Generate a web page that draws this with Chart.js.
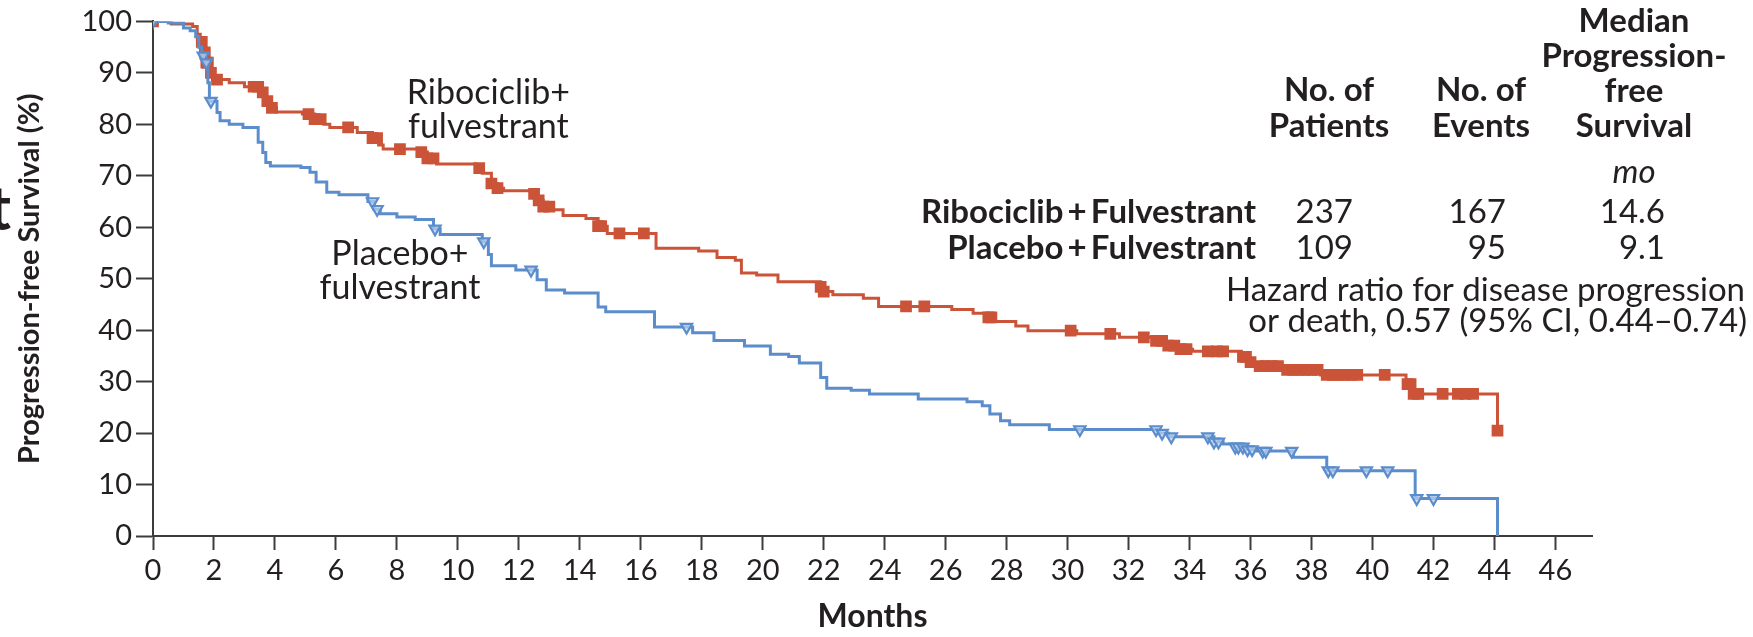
<!DOCTYPE html>
<html>
<head>
  <meta charset="utf-8">
  <title>Progression-free Survival</title>
  <script src="https://cdn.jsdelivr.net/npm/chart.js@4.4.0/dist/chart.umd.min.js"></script>
  <style>
    html, body { margin: 0; padding: 0; background: #fff; }
    #wrap { width: 1753px; height: 637px; }
  </style>
</head>
<body>
<div id="wrap"><canvas id="km" width="1753" height="637"></canvas></div>
<script>
  // Kaplan-Meier steps (months, % progression-free)
  const redTimes = [0, 0.6, 1.3, 1.45, 1.55, 1.65, 1.75, 1.85, 1.95, 2.5, 3.0, 3.55, 3.7, 3.85, 4.05, 4.9, 5.3, 5.6, 5.8, 6.7, 7.2, 7.4, 7.55, 8.7, 9.0, 9.3, 10.6, 10.8, 11.1, 11.3, 11.5, 12.4, 12.6, 12.8, 13.1, 13.45, 14.2, 14.6, 14.9, 16.5, 17.9, 18.5, 19.1, 19.3, 19.8, 20.5, 21.9, 22.0, 22.3, 23.3, 23.8, 26.2, 26.9, 27.4, 27.6, 28.3, 28.7, 30.3, 31.7, 32.8, 33.2, 33.6, 34.1, 35.7, 35.9, 36.1, 37.0, 38.3, 41.1, 41.3, 44.1];
  const redSurv = [100, 99.5, 99, 97.5, 96, 94, 92, 90, 88.7, 88.1, 87.3, 86.2, 84.5, 83.2, 82.4, 82.0, 81.0, 80.0, 79.4, 78.4, 77.3, 76.0, 75.2, 74.6, 73.4, 72.3, 71.5, 70.5, 68.5, 67.6, 67.1, 66.5, 65.2, 64.0, 63.4, 62.3, 61.7, 60.2, 58.8, 55.9, 55.4, 54.1, 53.6, 51.1, 50.7, 49.4, 48.4, 47.5, 46.9, 46.2, 44.6, 44.0, 43.3, 42.5, 41.7, 40.8, 39.9, 39.3, 38.6, 37.9, 37.0, 36.3, 35.9, 34.8, 33.8, 33.0, 32.3, 31.3, 29.5, 27.6, 20.5];

  const blueTimes = [0, 0.5, 1.0, 1.22, 1.4, 1.5, 1.6, 1.7, 1.8, 1.85, 2.1, 2.2, 2.5, 2.95, 3.45, 3.6, 3.7, 3.85, 4.85, 5.15, 5.35, 5.7, 6.1, 7.05, 7.25, 7.45, 8.0, 8.6, 9.2, 9.42, 10.8, 11.0, 11.1, 11.9, 12.6, 12.9, 13.5, 14.6, 14.85, 16.45, 17.7, 18.4, 19.4, 20.25, 20.85, 21.2, 21.9, 22.1, 22.9, 23.5, 25.1, 26.7, 27.2, 27.45, 27.8, 28.1, 29.4, 33.0, 33.3, 34.8, 35.1, 35.5, 35.9, 36.2, 37.4, 38.5, 41.4, 44.1];
  const blueSurv = [100, 99.7, 98.7, 98.2, 97, 95, 93.3, 92, 88.1, 84.5, 82.3, 80.7, 80.0, 79.4, 76.5, 74.5, 72.6, 71.9, 71.6, 70.7, 68.8, 66.8, 66.3, 65.0, 63.5, 62.6, 62.0, 61.5, 59.7, 58.6, 57.2, 54.7, 52.5, 51.7, 49.8, 47.8, 47.2, 44.5, 43.6, 40.6, 39.5, 38.0, 36.9, 35.3, 34.9, 33.6, 30.8, 28.7, 28.3, 27.6, 26.6, 26.1, 25.3, 23.7, 22.4, 21.6, 20.7, 20.0, 19.3, 18.3, 17.9, 17.3, 16.8, 16.5, 15.3, 12.7, 7.3, 0];

  // censored observations
  const redCensorTimes = [0, 1.6, 1.7, 1.75, 1.8, 1.9, 2.1, 3.3, 3.45, 3.6, 3.75, 3.9, 5.1, 5.3, 5.5, 6.4, 7.2, 7.35, 8.1, 8.8, 9.0, 9.2, 10.7, 11.1, 11.3, 12.5, 12.65, 12.8, 13.0, 14.6, 14.7, 15.3, 16.1, 21.9, 22.0, 24.7, 25.3, 27.4, 27.5, 30.1, 31.4, 32.5, 32.9, 33.1, 33.3, 33.5, 33.7, 33.9, 34.6, 34.9, 35.1, 35.75, 35.85, 36.0, 36.3, 36.5, 36.7, 36.9, 37.2, 37.4, 37.6, 37.8, 38.0, 38.2, 38.5, 38.7, 38.9, 39.1, 39.3, 39.5, 40.4, 41.15, 41.25, 41.35, 41.5, 42.3, 42.8, 43.05, 43.3, 44.1];
  const redCensorSurv = [100, 96, 94, 92, 92, 90, 88.7, 87.3, 87.3, 86.2, 84.5, 83.2, 82.0, 81.0, 81.0, 79.4, 77.3, 77.3, 75.2, 74.6, 73.4, 73.4, 71.5, 68.5, 67.6, 66.5, 65.2, 64.0, 64.0, 60.2, 60.2, 58.8, 58.8, 48.4, 47.5, 44.6, 44.6, 42.5, 42.5, 39.9, 39.3, 38.6, 37.9, 37.9, 37.0, 37.0, 36.3, 36.3, 35.9, 35.9, 35.9, 34.8, 34.8, 33.8, 33.0, 33.0, 33.0, 33.0, 32.3, 32.3, 32.3, 32.3, 32.3, 32.3, 31.3, 31.3, 31.3, 31.3, 31.3, 31.3, 31.3, 29.5, 29.5, 27.6, 27.6, 27.6, 27.6, 27.6, 27.6, 20.5];

  const blueCensorTimes = [0, 1.65, 1.75, 1.9, 7.2, 7.35, 9.25, 10.85, 12.4, 17.5, 30.4, 32.9, 33.1, 33.4, 34.6, 34.8, 34.95, 35.5, 35.6, 35.75, 35.9, 36.05, 36.4, 36.5, 37.35, 38.55, 38.7, 39.8, 40.5, 41.45, 42.0];
  const blueCensorSurv = [100, 93.3, 92, 84.5, 65.0, 63.5, 59.7, 57.2, 51.7, 40.6, 20.7, 20.7, 20.0, 19.3, 19.3, 18.3, 18.3, 17.3, 17.3, 17.3, 16.8, 16.8, 16.5, 16.5, 16.5, 12.7, 12.7, 12.7, 12.7, 7.3, 7.3];

  const xTickValues = [0, 2, 4, 6, 8, 10, 12, 14, 16, 18, 20, 22, 24, 26, 28, 30, 32, 34, 36, 38, 40, 42, 44, 46];
  const yTickValues = [0, 10, 20, 30, 40, 50, 60, 70, 80, 90, 100];

  // summary table
  const groupNames = ['Ribociclib\u2009+\u2009Fulvestrant', 'Placebo\u2009+\u2009Fulvestrant'];
  const patientCounts = ['237', '109'];
  const eventCounts = ['167', '95'];
  const medianPfs = ['14.6', '9.1'];

  const RED = '#cb5338';
  const BLUE = '#5b8dcc';
  const INK = '#231f20';
  const AXIS = '#3c3c3c';

  const toPoints = (xs, ys) => xs.map((x, i) => ({x, y: ys[i]}));

  const notesPlugin = {
    id: 'notes',
    afterDraw(chart) {
      const ctx = chart.ctx;
      const xs = chart.scales.x, ys = chart.scales.y;
      ctx.save();
      ctx.fillStyle = INK;
      ctx.textBaseline = 'middle';

      // curve labels
      ctx.font = '34px Lato';
      ctx.textAlign = 'center';
      [[11.0, 86.1, ['Ribociclib+', 'fulvestrant']], [8.1, 54.7, ['Placebo+', 'fulvestrant']]].forEach(([x, y, lines]) => {
        lines.forEach((t, i) => ctx.fillText(t, xs.getPixelForValue(x), ys.getPixelForValue(y) + i * 34));
      });

      // table header
      ctx.font = 'bold 33px Lato';
      ctx.fillText('No. of', 1329, 90);
      ctx.fillText('Patients', 1329, 126);
      ctx.fillText('No. of', 1481, 90);
      ctx.fillText('Events', 1481, 126);
      ['Median', 'Progression-', 'free', 'Survival'].forEach((t, i) => ctx.fillText(t, 1634, 21 + i * 35));
      ctx.font = 'italic 33px Lato';
      ctx.fillText('mo', 1634, 172);

      // table rows
      groupNames.forEach((name, i) => {
        const y = 212 + i * 36;
        ctx.font = 'bold 33px Lato';
        ctx.textAlign = 'right';
        ctx.fillText(name, 1256, y);
        ctx.font = '33px Lato';
        ctx.fillText(patientCounts[i], 1353, y);
        ctx.fillText(eventCounts[i], 1506, y);
        ctx.fillText(medianPfs[i], 1665, y);
      });

      ctx.font = '33px Lato';
      ctx.textAlign = 'right';
      ctx.fillText('Hazard ratio for disease progression', 1745, 290);
      ctx.fillText('or death, 0.57 (95% CI, 0.44\u20130.74)', 1747, 321);

      // clipped panel letter at the left edge
      ctx.font = 'bold 62px Lato';
      ctx.textAlign = 'left';
      ctx.fillText('t', -12, 210);
      ctx.restore();
    }
  };

  Chart.defaults.font.family = 'Lato, "Open Sans", sans-serif';
  Chart.defaults.color = INK;

  new Chart(document.getElementById('km'), {
    type: 'line',
    plugins: [notesPlugin],
    data: {
      datasets: [
        {
          data: toPoints(blueCensorTimes, blueCensorSurv),
          showLine: false,
          pointStyle: 'triangle',
          rotation: 180,
          pointRadius: 6.5,
          borderWidth: 2.2,
          borderColor: BLUE,
          backgroundColor: 'rgba(190,210,238,0.7)'
        },
        {
          data: toPoints(blueTimes, blueSurv),
          stepped: true,
          borderColor: BLUE,
          borderWidth: 3,
          pointRadius: 0,
          fill: false
        },
        {
          data: toPoints(redCensorTimes, redCensorSurv),
          showLine: false,
          pointStyle: 'rect',
          pointRadius: 8.3,
          borderWidth: 0,
          backgroundColor: RED
        },
        {
          data: toPoints(redTimes, redSurv),
          stepped: true,
          borderColor: RED,
          borderWidth: 3,
          pointRadius: 0,
          fill: false
        }
      ]
    },
    options: {
      responsive: false,
      animation: false,
      devicePixelRatio: 1,
      layout: { padding: { left: 0, right: 161, top: 18, bottom: 0 } },
      plugins: { legend: { display: false }, tooltip: { enabled: false } },
      scales: {
        x: {
          type: 'linear',
          min: 0,
          max: 47.2,
          afterFit: s => { s.height = 101; },
          afterBuildTicks: s => { s.ticks = xTickValues.map(v => ({value: v})); },
          border: { display: true, color: AXIS, width: 2 },
          grid: { drawOnChartArea: false, drawTicks: true, tickLength: 14, tickWidth: 2, tickColor: AXIS },
          ticks: { font: { size: 29 }, color: INK, padding: 3, maxRotation: 0, autoSkip: false },
          title: { display: true, text: 'Months', font: { size: 32, weight: 'bold' }, color: INK, padding: { top: 0, bottom: 1 } }
        },
        y: {
          min: 0,
          max: 100,
          afterFit: s => { s.width = 153; },
          afterBuildTicks: s => { s.ticks = yTickValues.map(v => ({value: v})); },
          border: { display: true, color: AXIS, width: 2 },
          grid: { drawOnChartArea: false, drawTicks: true, tickLength: 17, tickWidth: 2, tickColor: AXIS },
          ticks: { font: { size: 29 }, color: INK, padding: 4 },
          title: { display: true, text: 'Progression-free Survival (%)', font: { size: 29, weight: 'bold' }, color: INK, padding: { top: 12, bottom: 0 } }
        }
      }
    }
  });
</script>
</body>
</html>
